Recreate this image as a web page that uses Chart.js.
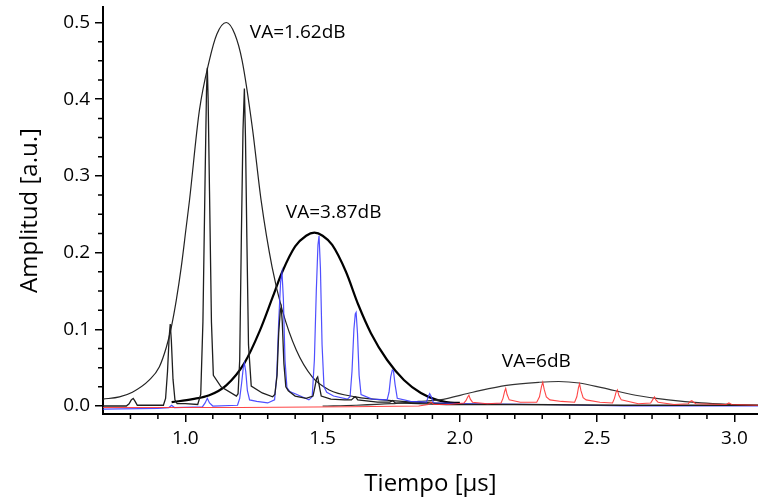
<!DOCTYPE html>
<html>
<head>
<meta charset="utf-8">
<script src="https://cdn.jsdelivr.net/npm/chart.js@4.4.1/dist/chart.umd.min.js"></script>
<style>
  html, body { margin: 0; padding: 0; background: #ffffff; }
  canvas { display: block; }
</style>
</head>
<body>
<canvas id="chart" width="758" height="504"></canvas>
<script>
// Echo pulse trains [time µs, amplitude a.u.]
const traceBlack = [
  [0.70,0.000],[0.785,0.000],[0.795,0.003],[0.803,0.008],[0.810,0.010],[0.817,0.006],[0.825,0.001],[0.92,0.001],
  [0.928,0.010],[0.935,0.045],[0.941,0.090],[0.945,0.107],[0.949,0.085],[0.955,0.035],[0.962,0.008],[0.97,0.003],
  [1.00,0.003],[1.045,0.002],[1.056,0.015],[1.064,0.110],[1.072,0.300],[1.077,0.410],[1.080,0.441],[1.083,0.400],
  [1.088,0.280],[1.095,0.110],[1.102,0.040],[1.13,0.025],[1.186,0.013],[1.192,0.016],[1.198,0.060],[1.204,0.220],
  [1.210,0.360],[1.215,0.414],[1.219,0.350],[1.224,0.220],[1.230,0.080],[1.240,0.026],[1.28,0.017],[1.318,0.012],
  [1.326,0.015],[1.334,0.040],[1.340,0.095],[1.346,0.125],[1.349,0.129],[1.353,0.110],[1.359,0.055],[1.366,0.025],
  [1.375,0.020],[1.40,0.013],[1.44,0.010],[1.465,0.013],[1.472,0.025],[1.478,0.036],[1.482,0.038],[1.488,0.026],
  [1.495,0.013],[1.53,0.009],[1.58,0.008],[1.605,0.008],[1.614,0.011],[1.620,0.012],[1.628,0.008],[1.70,0.005],
  [1.745,0.005],[1.755,0.007],[1.765,0.004],[1.85,0.003],[1.95,0.002],[2.2,0.002],[2.6,0.001],[3.086,0.001]
];
const traceBlue = [
  [0.70,-0.004],[0.90,-0.003],[0.94,-0.002],[0.95,0.001],[0.96,-0.002],[1.062,-0.001],[1.072,0.004],[1.080,0.010],
  [1.088,0.004],[1.10,0.000],[1.19,0.001],[1.198,0.010],[1.205,0.030],[1.211,0.050],[1.215,0.056],[1.220,0.045],
  [1.226,0.020],[1.234,0.008],[1.26,0.006],[1.30,0.004],[1.325,0.008],[1.333,0.040],[1.340,0.110],[1.347,0.162],
  [1.352,0.174],[1.357,0.140],[1.363,0.060],[1.370,0.024],[1.38,0.019],[1.40,0.016],[1.45,0.008],[1.462,0.012],
  [1.470,0.060],[1.477,0.150],[1.483,0.210],[1.487,0.222],[1.492,0.180],[1.498,0.080],[1.505,0.025],[1.515,0.018],
  [1.54,0.013],[1.59,0.009],[1.600,0.012],[1.607,0.045],[1.614,0.100],[1.619,0.120],[1.622,0.122],[1.627,0.095],
  [1.633,0.040],[1.640,0.015],[1.68,0.009],[1.735,0.008],[1.742,0.018],[1.748,0.038],[1.754,0.047],[1.758,0.046],
  [1.764,0.028],[1.772,0.010],[1.82,0.006],[1.878,0.005],[1.884,0.011],[1.890,0.016],[1.896,0.012],[1.904,0.004],
  [2.0,0.003],[2.3,0.002],[2.6,0.000],[3.086,0.000]
];
const traceRed = [
  [0.70,-0.002],[1.2,-0.002],[1.6,-0.001],[1.85,0.000],[1.885,0.002],[1.895,0.005],[1.905,0.002],[1.96,0.002],
  [2.015,0.004],[2.022,0.007],[2.029,0.012],[2.033,0.014],[2.038,0.009],[2.046,0.005],[2.10,0.003],[2.150,0.004],
  [2.157,0.010],[2.163,0.019],[2.167,0.023],[2.172,0.015],[2.180,0.008],[2.22,0.005],[2.280,0.005],[2.290,0.012],
  [2.297,0.025],[2.302,0.031],[2.307,0.022],[2.315,0.012],[2.328,0.008],[2.37,0.006],[2.418,0.005],[2.426,0.012],
  [2.432,0.024],[2.436,0.029],[2.441,0.020],[2.449,0.011],[2.46,0.008],[2.51,0.005],[2.556,0.004],[2.563,0.010],
  [2.569,0.018],[2.574,0.021],[2.579,0.014],[2.588,0.008],[2.65,0.003],[2.695,0.004],[2.702,0.008],[2.709,0.012],
  [2.714,0.008],[2.722,0.005],[2.78,0.002],[2.832,0.003],[2.839,0.006],[2.845,0.007],[2.851,0.005],[2.86,0.003],
  [2.97,0.002],[2.980,0.004],[2.99,0.002],[3.086,0.001]
];

// Envelopes for each attenuation value
const envelope162 = [
  [0.70,0.009],[0.76,0.012],[0.807,0.018],[0.869,0.034],[0.905,0.051],[0.931,0.077],
  [0.949,0.103],[0.967,0.138],[0.985,0.181],[1.003,0.233],[1.015,0.268],[1.051,0.385],
  [1.087,0.450],[1.115,0.485],[1.149,0.500],[1.18,0.485],[1.207,0.450],[1.244,0.363],
  [1.276,0.268],[1.316,0.181],[1.353,0.125],[1.404,0.073],[1.462,0.038],[1.524,0.021],
  [1.62,0.012],[1.75,0.007],[1.90,0.004],[2.00,0.003]
];
const envelope387 = [
  [0.95,0.005],[1.026,0.009],[1.087,0.014],[1.149,0.027],[1.215,0.056],[1.271,0.098],
  [1.318,0.142],[1.352,0.174],[1.40,0.208],[1.44,0.222],[1.47,0.226],[1.50,0.222],
  [1.535,0.210],[1.585,0.175],[1.63,0.132],[1.676,0.095],[1.735,0.060],[1.796,0.034],
  [1.858,0.017],[1.916,0.008],[1.98,0.004],[2.00,0.004]
];
const envelope6 = [
  [1.50,0.000],[1.62,0.001],[1.75,0.003],[1.85,0.006],[1.925,0.008],[2.047,0.018],
  [2.17,0.027],[2.29,0.031],[2.36,0.032],[2.435,0.030],[2.517,0.024],[2.64,0.014],
  [2.76,0.008],[2.88,0.004],[3.00,0.002],[3.086,0.001]
];

// Axis ticks
const xMajorTicks = [1.0, 1.5, 2.0, 2.5, 3.0];
const xMinorTicks = [0.8, 0.9, 1.1, 1.2, 1.3, 1.4, 1.6, 1.7, 1.8, 1.9, 2.1, 2.2, 2.3, 2.4, 2.6, 2.7, 2.8, 2.9];
const yMajorTicks = [0.0, 0.1, 0.2, 0.3, 0.4, 0.5];
const yMinorTicks = [0.025, 0.05, 0.075, 0.125, 0.15, 0.175, 0.225, 0.25, 0.275,
                     0.325, 0.35, 0.375, 0.425, 0.45, 0.475];

// Curve annotations
const notes = [
  { text: 'VA=1.62dB', x: 1.235, y: 0.487 },
  { text: 'VA=3.87dB', x: 1.366, y: 0.252 },
  { text: 'VA=6dB',    x: 2.153, y: 0.058 }
];

const FONT = '"Open Sans", "DejaVu Sans", sans-serif';
Chart.defaults.font.family = FONT;
Chart.defaults.color = '#000';

const toPoints = arr => arr.map(([x, y]) => ({ x, y }));

function trace(data, color, width) {
  return { data: toPoints(data), borderColor: color, borderWidth: width,
           pointRadius: 0, tension: 0, fill: false };
}
function envelope(data, color, width) {
  return { data: toPoints(data), borderColor: color, borderWidth: width,
           pointRadius: 0, cubicInterpolationMode: 'monotone', fill: false };
}

const axisExtras = {
  id: 'axisExtras',
  afterDraw(chart) {
    const { ctx, chartArea: a } = chart;
    const x = chart.scales.x, y = chart.scales.y;
    ctx.save();
    ctx.strokeStyle = '#000';
    ctx.lineWidth = 1.5;
    ctx.beginPath();
    xMinorTicks.forEach(v => {
      const px = x.getPixelForValue(v);
      ctx.moveTo(px, a.bottom); ctx.lineTo(px, a.bottom + 5);
    });
    yMinorTicks.forEach(v => {
      const py = y.getPixelForValue(v);
      ctx.moveTo(a.left, py); ctx.lineTo(a.left - 5, py);
    });
    ctx.stroke();
    ctx.fillStyle = '#000';
    ctx.font = '19px ' + FONT;
    ctx.textAlign = 'left';
    ctx.textBaseline = 'middle';
    notes.forEach(n => ctx.fillText(n.text, x.getPixelForValue(n.x), y.getPixelForValue(n.y)));
    ctx.restore();
  }
};

new Chart(document.getElementById('chart'), {
  type: 'line',
  data: {
    datasets: [
      trace(traceRed, 'rgba(255,50,50,0.9)', 1.1),
      trace(traceBlack, '#1e1e1e', 1.3),
      trace(traceBlue, 'rgba(60,60,255,0.9)', 1.2),
      envelope(envelope162, '#222', 1.2),
      envelope(envelope6, '#333', 1.2),
      envelope(envelope387, '#000', 2.2)
    ]
  },
  options: {
    responsive: false,
    animation: false,
    layout: { padding: { top: 7, right: 0, bottom: 0, left: 0 } },
    plugins: { legend: { display: false }, tooltip: { enabled: false } },
    scales: {
      x: {
        type: 'linear',
        min: 0.7, max: 3.086,
        afterBuildTicks: s => { s.ticks = xMajorTicks.map(v => ({ value: v })); },
        afterFit: s => { s.height = 90; s.paddingLeft = 0; s.paddingRight = 0; },
        ticks: { autoSkip: false, maxRotation: 0, padding: 5, font: { size: 19 },
                 callback: v => Number(v).toFixed(1) },
        grid: { drawOnChartArea: false, drawTicks: true, tickLength: 8, color: '#000', lineWidth: 1.5 },
        border: { display: true, color: '#000', width: 2 },
        title: { display: true, text: 'Tiempo [µs]', font: { size: 24 }, padding: { top: 0, bottom: 5 } }
      },
      y: {
        type: 'linear',
        min: -0.0104, max: 0.5202,
        afterBuildTicks: s => { s.ticks = yMajorTicks.map(v => ({ value: v })); },
        afterFit: s => { s.width = 103; s.paddingTop = 0; s.paddingBottom = 0; },
        ticks: { autoSkip: false, padding: 5, font: { size: 19 },
                 callback: v => Number(v).toFixed(1) },
        grid: { drawOnChartArea: false, drawTicks: true, tickLength: 8, color: '#000', lineWidth: 1.5 },
        border: { display: true, color: '#000', width: 2 },
        title: { display: true, text: 'Amplitud [a.u.]', font: { size: 24 }, padding: { top: 16, bottom: 0 } }
      }
    }
  },
  plugins: [axisExtras]
});
</script>
</body>
</html>
